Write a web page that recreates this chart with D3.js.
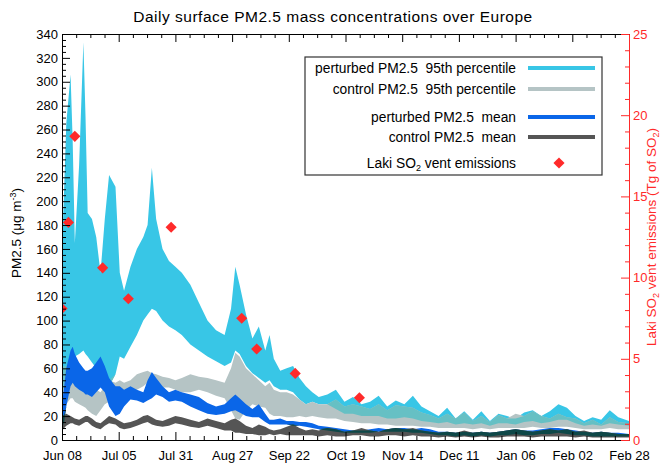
<!DOCTYPE html>
<html>
<head>
<meta charset="utf-8">
<script src="https://cdn.jsdelivr.net/npm/d3@7"></script>
<style>
body { margin: 0; background: #fff; }
text { font-family: "Liberation Sans", Arial, sans-serif; }
</style>
</head>
<body>
<svg></svg>
<script>
var width = 663;
var height = 466;

// days since Jun 08 1783
var days = [0,1,2,4,5,6,8,10,11,12,
            14,16,18,20,22,25,27,29,32,35,
            38,40,42,44,47,50,53,56,60,64,
            68,72,76,79,81,83,86,89,92,95,
            97,99,102,105,108,111,114,117,120,124,
            128,132,136,140,144,148,152,156,160,164,
            168,172,176,180,184,188,192,196,200,204,
            208,212,216,220,224,228,232,236,240,244,
            248,252,256,260,265];

var pert95Hi = [160,210,265,306,250,165,230,333,270,190,
                185,170,140,185,222,212,140,125,145,160,
                170,180,228,185,160,150,145,140,130,115,
                100,92,88,110,145,130,105,85,95,75,
                88,68,58,60,62,52,45,40,36,38,
                42,32,36,30,32,37,28,33,30,37,
                28,24,20,27,18,24,17,24,16,22,
                20,18,23,25,20,24,30,27,20,16,
                19,17,25,19,16];
var pert95Lo = [40,45,55,70,72,70,72,75,72,70,
                65,60,50,42,45,55,70,68,78,88,
                100,105,110,108,100,95,92,88,80,75,
                70,66,62,65,75,72,62,56,52,48,
                50,45,42,42,40,34,30,32,30,30,
                26,22,22,20,20,20,18,18,19,18,
                16,15,14,15,13,14,13,14,12,14,
                14,13,15,16,14,15,17,17,14,12,
                13,12,14,13,12];

var ctrl95Hi = [60,62,62,58,56,55,50,48,46,45,
                45,42,40,45,50,48,50,48,50,55,
                57,58,56,55,53,52,50,52,55,53,
                52,50,48,60,73,70,60,55,50,45,
                48,42,40,40,38,34,30,32,30,30,
                34,28,30,28,26,30,25,29,28,27,
                23,21,18,22,18,23,16,20,15,21,
                18,22,20,24,20,18,22,19,18,14,
                17,13,19,15,14];
var ctrl95Lo = [20,25,30,35,35,32,30,28,27,25,
                22,20,25,30,32,38,40,40,40,42,
                45,48,46,45,44,44,42,40,40,42,
                40,37,35,25,18,17,25,30,28,27,
                22,20,20,19,19,20,19,20,19,18,
                18,16,15,14,14,13,13,12,12,12,
                11,11,10,10,10,10,9,10,9,10,
                10,10,10,11,10,10,11,11,10,9,
                9,9,10,9,9];

var pertMeanHi = [30,45,60,75,78,72,65,60,58,58,
                  60,65,70,62,52,45,45,42,45,42,
                  40,50,57,52,45,40,42,40,38,36,
                  31,28,30,35,38,35,30,26,30,22,
                  17,17,18,16,16,15,15,14,12,11,
                  10,9,8,8,9,10,9,10,10,9,
                  10,9,7,7,6,7,6,7,6,7,
                  8,9,8,8,9,10,10,9,8,7,
                  6,7,6,6,5];
var pertMeanLo = [10,15,28,45,48,45,42,40,38,38,
                  36,40,44,40,28,20,22,28,34,33,
                  31,33,35,38,36,32,33,32,28,25,
                  22,21,22,24,25,23,20,19,19,15,
                  13,13,13,13,12,12,11,10,9,8,
                  7,6,6,6,6,7,7,7,7,6,
                  6,5,4,4,3,4,3,4,3,4,
                  4,5,4,4,5,5,6,5,4,4,
                  3,3,3,3,3];

var ctrlMeanHi = [20,21,22,20,19,18,17,19,20,20,
                  18,15,14,17,20,18,16,14,15,17,
                  20,21,19,17,16,18,20,19,17,15,
                  18,16,14,17,18,16,12,10,13,11,
                  9,8,9,11,13,10,8,9,8,10,
                  9,7,8,10,8,7,9,10,9,10,
                  8,7,6,7,6,8,6,7,6,7,
                  8,9,8,7,8,9,8,9,7,8,
                  6,7,6,5,5];
var ctrlMeanLo = [8,10,12,14,14,13,12,14,15,15,
                  12,10,9,12,14,13,10,9,10,12,
                  14,15,13,12,11,12,14,13,11,10,
                  12,10,8,8,6,6,5,5,4,4,
                  5,4,5,4,4,4,4,4,3,4,
                  3,3,4,4,3,3,4,4,3,4,
                  3,3,2,3,2,3,2,3,2,2,
                  3,3,3,2,3,3,3,3,2,3,
                  2,2,2,2,2];

// Laki SO2 vent emissions (Tg)
var ventDays = [0,3,6,19,31,51,84,91,109,139];
var ventSO2 = [8.1,13.4,18.7,10.6,8.7,13.1,7.5,5.6,4.1,2.6];

var xLabels = ["Jun 08","Jul 05","Jul 31","Aug 27","Sep 22","Oct 19","Nov 14","Dec 11","Jan 06","Feb 02","Feb 28"];

var cyan = "#38c6e6", grey = "#b5c4c5", teal = "#66c0c4";
var blue = "#0a66e8", dark = "#555555", darkTeal = "#0e4848";
var red = "#ff2a2a";

var plotL = 62, plotR = 629, plotT = 34, plotB = 440;

var xScale = d3.scaleLinear().domain([0, 265]).range([plotL, plotR]);
var yScale = d3.scaleLinear().domain([0, 340]).range([plotB, plotT]);
var yRight = d3.scaleLinear().domain([0, 25]).range([plotB, plotT]);

var svg = d3.select("svg")
    .attr("width", width)
    .attr("height", height);

svg.append("clipPath").attr("id", "plot")
    .append("rect")
    .attr("x", plotL).attr("y", plotT)
    .attr("width", plotR - plotL).attr("height", plotB - plotT);

var g = svg.append("g").attr("clip-path", "url(#plot)");

function band(lo, hi, color) {
    var area = d3.area()
        .x(d => xScale(d))
        .y0((d, i) => yScale(lo[i]))
        .y1((d, i) => yScale(hi[i]));
    g.append("path").datum(days).attr("d", area).attr("fill", color);
}

function overlap(lo1, hi1, lo2, hi2) {
    var lo = lo1.map((v, i) => Math.max(v, lo2[i]));
    var hi = hi1.map((v, i) => Math.max(lo[i], Math.min(v, hi2[i])));
    return [lo, hi];
}

band(pert95Lo, pert95Hi, cyan);
band(ctrl95Lo, ctrl95Hi, grey);
var o95 = overlap(pert95Lo, pert95Hi, ctrl95Lo, ctrl95Hi);
band(o95[0], o95[1], teal);

band(pertMeanLo, pertMeanHi, blue);
band(ctrlMeanLo, ctrlMeanHi, dark);
var oMean = overlap(pertMeanLo, pertMeanHi, ctrlMeanLo, ctrlMeanHi);
band(oMean[0], oMean[1], darkTeal);

var diamond = d3.symbol().type(d3.symbolSquare).size(62);

g.selectAll(".vent")
    .data(ventDays)
    .enter()
    .append("path")
    .attr("d", diamond)
    .attr("transform", (d, i) => `translate(${xScale(d)},${yRight(ventSO2[i])}) rotate(45)`)
    .attr("fill", red);

// axes
var majorX = d3.range(11).map(i => i * 26.5);
var minorX = d3.range(41).map(i => i * 26.5 / 4).filter((d, i) => i % 4 !== 0);

function styleAxis(sel, color) {
    sel.selectAll("path, line").attr("stroke", color).attr("stroke-width", 1);
    sel.selectAll("text").attr("fill", color).style("font-size", "13px")
        .style("font-family", '"Liberation Sans", Arial, sans-serif');
}

svg.append("g")
    .attr("transform", `translate(0,${plotB})`)
    .call(d3.axisBottom(xScale).tickValues(majorX).tickSizeInner(-8).tickSizeOuter(0)
        .tickPadding(11).tickFormat((d, i) => xLabels[i]))
    .call(s => styleAxis(s, "#000"));
svg.append("g")
    .attr("transform", `translate(0,${plotB})`)
    .call(d3.axisBottom(xScale).tickValues(minorX).tickSizeInner(-4).tickSizeOuter(0).tickFormat(""))
    .call(s => styleAxis(s, "#000"));

svg.append("g")
    .attr("transform", `translate(0,${plotT})`)
    .call(d3.axisTop(xScale).tickValues(majorX).tickSizeInner(-8).tickSizeOuter(0).tickFormat(""))
    .call(s => styleAxis(s, "#000"));
svg.append("g")
    .attr("transform", `translate(0,${plotT})`)
    .call(d3.axisTop(xScale).tickValues(minorX).tickSizeInner(-4).tickSizeOuter(0).tickFormat(""))
    .call(s => styleAxis(s, "#000"));

svg.append("g")
    .attr("transform", `translate(${plotL},0)`)
    .call(d3.axisLeft(yScale).tickValues(d3.range(0, 341, 20)).tickSizeInner(-8).tickSizeOuter(0).tickPadding(4))
    .call(s => styleAxis(s, "#000"));
svg.append("g")
    .attr("transform", `translate(${plotL},0)`)
    .call(d3.axisLeft(yScale).tickValues(d3.range(5, 340, 5).filter(d => d % 20 !== 0))
        .tickSizeInner(-4).tickSizeOuter(0).tickFormat(""))
    .call(s => styleAxis(s, "#000"));

svg.append("g")
    .attr("transform", `translate(${plotR},0)`)
    .call(d3.axisRight(yRight).tickValues(d3.range(0, 26, 5)).tickSizeInner(-8).tickSizeOuter(0).tickPadding(4))
    .call(s => styleAxis(s, red));
svg.append("g")
    .attr("transform", `translate(${plotR},0)`)
    .call(d3.axisRight(yRight).tickValues(d3.range(1, 25).filter(d => d % 5 !== 0))
        .tickSizeInner(-4).tickSizeOuter(0).tickFormat(""))
    .call(s => styleAxis(s, red));

// titles
svg.append("text")
    .attr("x", 333)
    .attr("y", 22)
    .attr("text-anchor", "middle")
    .style("font-size", "15.5px")
    .style("letter-spacing", "0.5px")
    .text("Daily surface PM2.5 mass concentrations over Europe");

var yl = svg.append("text")
    .attr("transform", `translate(21,${(plotT + plotB) / 2 - 4}) rotate(-90)`)
    .attr("text-anchor", "middle")
    .style("font-size", "13.5px");
yl.append("tspan").text("PM2.5 (\u03bcg m");
yl.append("tspan").attr("dy", -5).style("font-size", "9px").text("-3");
yl.append("tspan").attr("dy", 5).text(")");

var rl = svg.append("text")
    .attr("transform", `translate(656,${(plotT + plotB) / 2}) rotate(-90)`)
    .attr("text-anchor", "middle")
    .attr("fill", red)
    .style("font-size", "13.5px");
rl.append("tspan").text("Laki SO");
rl.append("tspan").attr("dy", 3).style("font-size", "9px").text("2");
rl.append("tspan").attr("dy", -3).text(" vent emissions (Tg of SO");
rl.append("tspan").attr("dy", 3).style("font-size", "9px").text("2");
rl.append("tspan").attr("dy", -3).text(")");

// legend
var legendItems = [
    {label: "perturbed PM2.5  95th percentile", color: cyan, y: 68},
    {label: "control PM2.5  95th percentile", color: grey, y: 89},
    {label: "perturbed PM2.5  mean", color: blue, y: 117},
    {label: "control PM2.5  mean", color: dark, y: 137}
];

var legend = svg.append("g");
legend.append("rect")
    .attr("x", 305).attr("y", 57)
    .attr("width", 297).attr("height", 118)
    .attr("fill", "#fff")
    .attr("stroke", "#333")
    .attr("stroke-width", 1.2);

legendItems.forEach(d => {
    legend.append("text")
        .attr("x", 516).attr("y", d.y + 5)
        .attr("text-anchor", "end")
        .style("font-size", "13.8px")
        .style("white-space", "pre")
        .text(d.label);
    legend.append("line")
        .attr("x1", 528).attr("x2", 595)
        .attr("y1", d.y).attr("y2", d.y)
        .attr("stroke", d.color)
        .attr("stroke-width", 4);
});

var lt = legend.append("text")
    .attr("x", 516).attr("y", 168)
    .attr("text-anchor", "end")
    .style("font-size", "13.8px");
lt.append("tspan").text("Laki SO");
lt.append("tspan").attr("dy", 3).style("font-size", "9px").text("2");
lt.append("tspan").attr("dy", -3).text(" vent emissions");

legend.append("path")
    .attr("d", diamond)
    .attr("transform", "translate(559,163) rotate(45)")
    .attr("fill", red);
</script>
</body>
</html>
